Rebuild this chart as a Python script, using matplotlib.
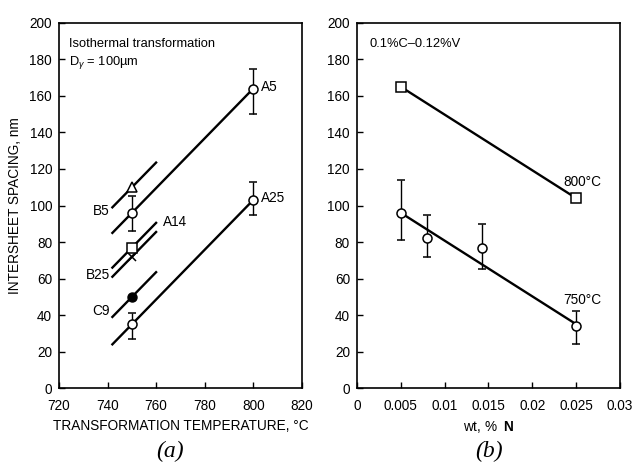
import matplotlib
matplotlib.use("Agg")
import matplotlib.pyplot as plt
import numpy as np

plt.rcParams['font.family'] = ['Liberation Sans', 'DejaVu Sans']
plt.rcParams['mathtext.fontset'] = 'custom'
plt.rcParams['mathtext.rm'] = 'Liberation Sans'
plt.rcParams['mathtext.it'] = 'Liberation Sans:italic'
plt.rcParams['mathtext.bf'] = 'Liberation Sans:bold'

# ---- Panel (a) data ----
temps_a = [750, 800]
a5_vals = [96, 164]
a5_err_lo = [10, 14]
a5_err_hi = [9, 11]
a25_vals = [35, 103]
a25_err_lo = [8, 8]
a25_err_hi = [6, 10]
# long fit lines
a5_line_x = [742, 800]
a5_line_y = [85, 164]
a25_line_x = [742, 800]
a25_line_y = [24, 103]
# single points at 750 C with short lines
b5_val = 110
a14_val = 77
b25_val = 72
c9_val = 50
short_x = [742, 760]
b5_line_y = [99, 123.5]
a14_line_y = [66, 90.5]
b25_line_y = [61, 85.5]
c9_line_y = [39, 63.5]

# ---- Panel (b) data ----
n800 = [0.005, 0.025]
v800 = [165, 104]
n750 = [0.005, 0.008, 0.0143, 0.025]
v750 = [96, 82, 77, 34]
e750_lo = [15, 10, 12, 10]
e750_hi = [18, 13, 13, 8]
line750_x = [0.005, 0.025]
line750_y = [96, 35]

fig = plt.figure(figsize=(6.34, 4.66), dpi=100)
axa = fig.add_axes([0.093, 0.167, 0.383, 0.784])
axb = fig.add_axes([0.563, 0.167, 0.415, 0.784])

fs = 9.8
lw = 1.7

def style(ax):
    for s in ax.spines.values():
        s.set_linewidth(1.2)
    ax.tick_params(direction='in', length=4, width=1, labelsize=fs,
                   top=False, right=False)
    ax.tick_params(axis='x', pad=8)
    ax.tick_params(axis='y', pad=5)

# ---- panel a ----
mk = dict(markersize=6.5, markerfacecolor='white', markeredgecolor='black',
          markeredgewidth=1.1, zorder=5)
axa.plot(a5_line_x, a5_line_y, color='black', lw=lw)
axa.plot(a25_line_x, a25_line_y, color='black', lw=lw)
for ly in [b5_line_y, a14_line_y, b25_line_y, c9_line_y]:
    axa.plot(short_x, ly, color='black', lw=lw)
axa.errorbar(temps_a, a5_vals, yerr=[a5_err_lo, a5_err_hi], fmt='o', color='black',
             capsize=3, elinewidth=1, capthick=1, **mk)
axa.errorbar(temps_a, a25_vals, yerr=[a25_err_lo, a25_err_hi], fmt='o', color='black',
             capsize=3, elinewidth=1, capthick=1, **mk)
axa.plot([750], [b5_val], '^', **mk)
axa.plot([750], [a14_val], 's', **mk)
axa.plot([750], [b25_val], 'x', color='black', markersize=6, markeredgewidth=1.1, zorder=5)
axa.plot([750], [c9_val], 'o', markersize=6.5, color='black', zorder=5)

axa.text(803, 165, 'A5', fontsize=fs, va='center')
axa.text(803, 104, 'A25', fontsize=fs, va='center')
axa.text(741, 97, 'B5', fontsize=fs, va='center', ha='right')
axa.text(763, 91, 'A14', fontsize=fs, va='center')
axa.text(741, 62, 'B25', fontsize=fs, va='center', ha='right')
axa.text(741, 42, 'C9', fontsize=fs, va='center', ha='right')
axa.text(724, 188.5, 'Isothermal transformation', fontsize=fs - 0.5, va='center')
axa.text(724, 178.5, r'D$_{\gamma}$ = 100µm', fontsize=fs - 0.5, va='center')

axa.set_xlim(720, 820)
axa.set_ylim(0, 200)
axa.set_xticks(np.arange(720, 821, 20))
axa.set_yticks(np.arange(0, 201, 20))
style(axa)
axa.set_xlabel('TRANSFORMATION TEMPERATURE, °C', fontsize=fs, labelpad=4)
axa.set_ylabel('INTERSHEET SPACING, nm', fontsize=fs, labelpad=5)

# ---- panel b ----
axb.plot(n800, v800, color='black', lw=lw)
axb.plot(n800, v800, 's', **mk)
axb.plot(line750_x, line750_y, color='black', lw=lw)
axb.errorbar(n750, v750, yerr=[e750_lo, e750_hi], fmt='o', color='black',
             capsize=3, elinewidth=1, capthick=1, **mk)
axb.text(0.0235, 113, '800°C', fontsize=fs, va='center')
axb.text(0.0235, 48, '750°C', fontsize=fs, va='center')
axb.text(0.0014, 188.5, '0.1%C–0.12%V', fontsize=fs - 0.5, va='center')

axb.set_xlim(0, 0.03)
axb.set_ylim(0, 200)
axb.set_xticks([0, 0.005, 0.01, 0.015, 0.02, 0.025, 0.03])
axb.set_xticklabels(['0', '0.005', '0.01', '0.015', '0.02', '0.025', '0.03'])
axb.set_yticks(np.arange(0, 201, 20))
style(axb)
axb.set_xlabel(r'wt, %  $\mathbf{N}$', fontsize=fs, labelpad=4)

fig.text(0.268, 0.02, '(a)', fontsize=17, style='italic', ha='center',
         family=['Liberation Serif', 'DejaVu Serif'])
fig.text(0.772, 0.02, '(b)', fontsize=17, style='italic', ha='center',
         family=['Liberation Serif', 'DejaVu Serif'])

fig.savefig('out.png', dpi=100)
